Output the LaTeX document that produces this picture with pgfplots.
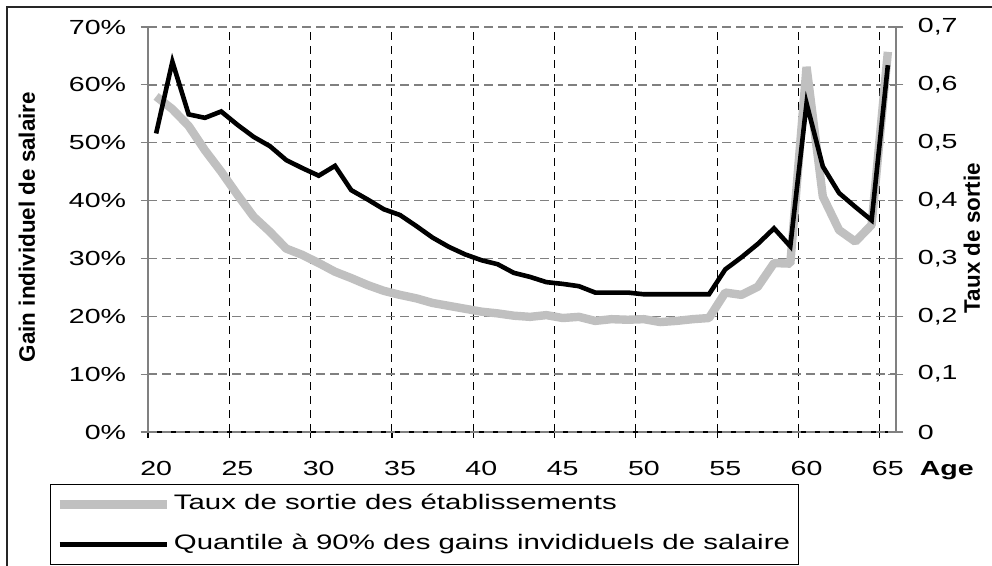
\documentclass[border=0pt]{standalone}
\usepackage{pgfplots}
\pgfplotsset{compat=1.18}
\usepackage{pgfplotstable}
\usepackage{fontspec}
\setmainfont{Liberation Sans}[FakeStretch=1.4]
\newfontfamily\vfont{Liberation Sans}
\definecolor{gridgray}{HTML}{808080}
\definecolor{linegray}{HTML}{C0C0C0}

\pgfplotstableread{
age q90
20 51.6
21 64.0
22 54.9
23 54.3
24 55.4
25 53.1
26 51.0
27 49.4
28 47.0
29 45.6
30 44.3
31 46.0
32 41.8
33 40.2
34 38.5
35 37.5
36 35.6
37 33.6
38 32.0
39 30.7
40 29.7
41 29.0
42 27.5
43 26.8
44 25.9
45 25.6
46 25.2
47 24.1
48 24.1
49 24.1
50 23.8
51 23.8
52 23.8
53 23.8
54 23.8
55 28.1
56 30.2
57 32.5
58 35.2
59 32.1
60 56.8
61 45.9
62 41.3
63 38.9
64 36.6
65 63.4
}\quantile

\pgfplotstableread{
age taux
20 0.580
21 0.558
22 0.529
23 0.487
24 0.450
25 0.410
26 0.372
27 0.346
28 0.317
29 0.306
30 0.292
31 0.277
32 0.266
33 0.254
34 0.244
35 0.237
36 0.231
37 0.223
38 0.218
39 0.213
40 0.208
41 0.205
42 0.201
43 0.199
44 0.202
45 0.197
46 0.199
47 0.192
48 0.195
49 0.194
50 0.195
51 0.190
52 0.192
53 0.195
54 0.197
55 0.241
56 0.237
57 0.251
58 0.292
59 0.291
60 0.631
61 0.407
62 0.349
63 0.329
64 0.358
65 0.657
}\taux

\pgfplotsset{
  base/.style={
    at={(74pt,67pt)}, anchor=south west, scale only axis,
    width=374pt, height=202.5pt, xmin=19.5, xmax=65.5,
    axis line style={-},
  },
}

\begin{document}
\fontsize{10.2}{12.2}\selectfont
\begin{tikzpicture}[x=1pt,y=1pt]
\useasboundingbox (0,0) rectangle (496,283);
\draw[line width=0.6pt, black!85] (3.5,0) -- (3.5,279.5) -- (496,279.5);

% Axis A: x axis and vertical grid
\begin{axis}[base, ymin=0, ymax=70,
  axis x line*=bottom, hide y axis,
  xtick={19.5,24.5,...,64.5},
  xticklabels={20,25,30,35,40,45,50,55,60,65},
  xmajorgrids,
  grid style={black, dash pattern=on 4pt off 3pt, line width=0.5pt},
  tick align=outside, major tick length=3pt,
  xtick style={black, line width=0.6pt},
  x axis line style={black, line width=0.6pt},
  xticklabel style={anchor=base, xshift=4.07pt, yshift=-19pt, inner sep=0pt},
  xlabel={Age},
  xlabel style={at={(axis description cs:1.068,-0.0963)}, anchor=center, font=\bfseries},
]
\end{axis}

% Axis B: right axis, horizontal grid, gray series
\begin{axis}[base, ymin=0, ymax=0.7,
  axis y line*=right, hide x axis,
  ytick={0,0.1,0.2,0.3,0.4,0.5,0.6,0.7},
  yticklabels={0,{0,1},{0,2},{0,3},{0,4},{0,5},{0,6},{0,7}},
  ymajorgrids,
  grid style={gridgray, dash pattern=on 4.5pt off 2.5pt, line width=0.75pt},
  tick align=center, major tick length=7.5pt,
  ytick style={gridgray, line width=0.6pt},
  y axis line style={gridgray, line width=0.6pt},
  yticklabel style={anchor=west, inner sep=0pt, xshift=7pt},
  ylabel={Taux de sortie},
  ylabel style={at={(axis description cs:1.1016,0.479)}, anchor=center, font=\vfont\bfseries\fontsize{11.2}{13}\selectfont},
]
\addplot[linegray, line width=4.2pt, line join=bevel, no markers] table[x=age, y=taux] {\taux};
\end{axis}

% Axis C: left axis, black series, legend
\begin{axis}[base, ymin=0, ymax=70,
  axis y line*=left, hide x axis,
  ytick={0,10,20,30,40,50,60,70},
  yticklabels={0\%,10\%,20\%,30\%,40\%,50\%,60\%,70\%},
  tick align=center, major tick length=7.5pt,
  ytick style={gridgray, line width=0.6pt},
  y axis line style={gridgray, line width=0.6pt},
  yticklabel style={anchor=east, inner sep=0pt, xshift=-7pt},
  ylabel={Gain individuel de salaire},
  ylabel style={at={(axis description cs:-0.1618,0.506)}, anchor=center, font=\vfont\bfseries\fontsize{11.2}{13}\selectfont},
  legend cell align=left,
  legend image code/.code={\draw[mark repeat=2,mark phase=2,#1] plot coordinates {(0pt,0pt) (26.75pt,0pt) (53.5pt,0pt)};},
  legend style={at={(axis description cs:-0.131,-0.128)}, anchor=north west,
    draw=black, line width=0.5pt, fill=white, inner xsep=2.5pt, inner ysep=2pt,
    row sep=4pt, font=\fontsize{10.5}{12.5}\selectfont,
    nodes={inner xsep=1.5pt, inner ysep=3pt, text height=7.5pt, text depth=2.5pt}},
]
\addlegendimage{linegray, line width=4.2pt}
\addlegendentry{Taux de sortie des établissements}
\addplot[black, line width=2.3pt, no markers] table[x=age, y=q90] {\quantile};
\addlegendentry{Quantile à 90\% des gains invididuels de salaire}
\end{axis}
\end{tikzpicture}
\end{document}
